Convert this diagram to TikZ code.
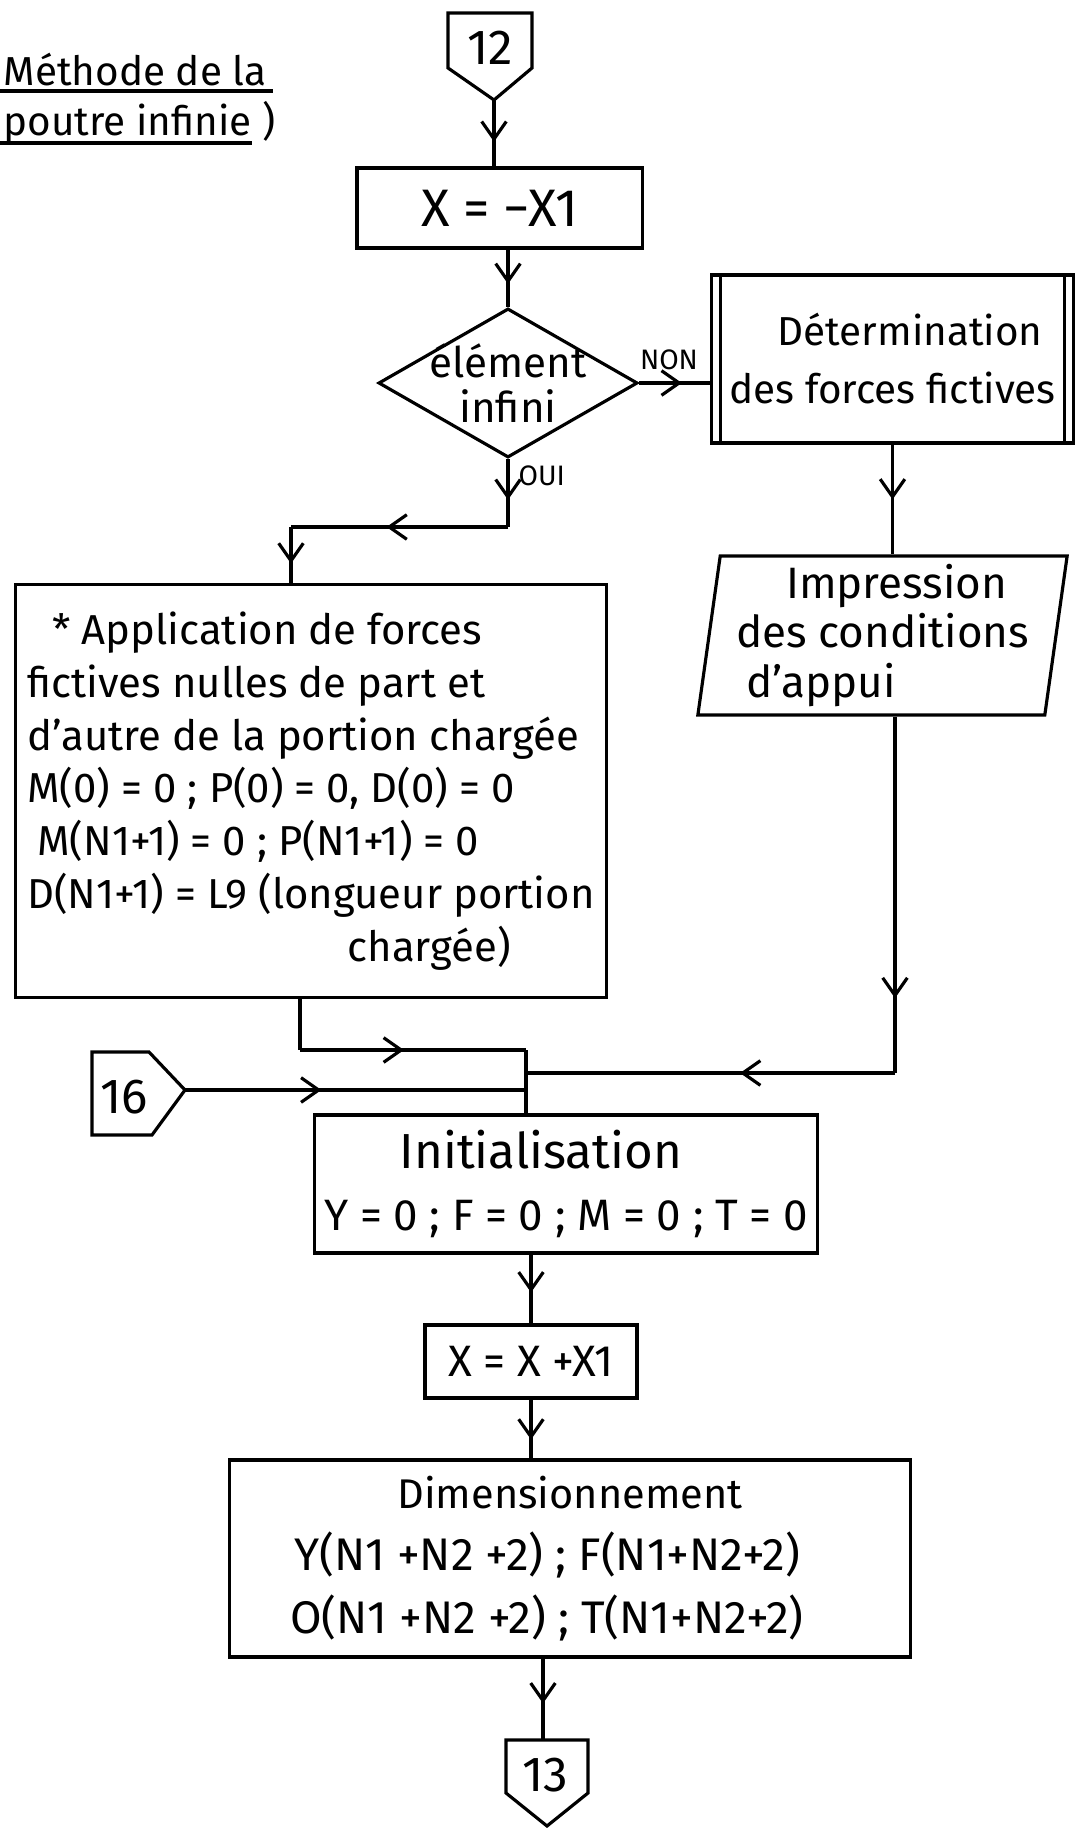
\documentclass[tikz,border=0pt]{standalone}
\usepackage{fontspec}
\setmainfont{Fira Sans}
\usetikzlibrary{shapes.geometric, arrows.meta, decorations.markings}

\begin{document}
\begin{tikzpicture}[
        x=0.01cm, y=-0.01cm, line width=0.9pt,
        box/.style = {rectangle, draw=black, align=center, inner sep=0pt},
        decision/.style = {diamond, draw=black, align=center, inner sep=-0.1cm, aspect=1.74, font=\fontsize{12}{13}\selectfont},
        io/.style = {trapezium, trapezium left angle=82, trapezium right angle=98, trapezium stretches=true, draw=black, inner sep=0pt},
        title/.style = {inner sep=0pt, font=\fontsize{11.5}{13}\selectfont},
        tag/.style = {inner sep=0pt, font=\fontsize{8}{9}\selectfont},
        connector/.style = {inner sep=0pt, font=\fontsize{14}{15}\selectfont},
        flow/.style = {postaction={decorate}, decoration={markings, mark=at position #1 with {\arrow{Straight Barb[length=5pt, width=7pt]}}}},
        flow/.default = 0.6
    ]
    \useasboundingbox (0, 0) rectangle (1077, 1828);

    % ================= TITRE =================
    \node[title, anchor=base west] (titre1) at (2, 86) {Méthode de la};
    \node[title, anchor=base west] (titre2) at (2, 136) {poutre infinie )};
    \draw (0, 91) -- (273, 91);
    \draw (0, 143) -- (252, 143);

    % ================= PARTIE HAUTE =================
    \node[connector] (c12) at (490, 48) {12};
    \draw (448, 13) -- (532, 13) -- (532, 68) -- (494, 100) -- (448, 68) -- cycle;
    \coordinate (c12tip) at (494, 100);

    \node[box, minimum width=2.85cm, minimum height=0.80cm, font=\fontsize{15}{16}\selectfont] (xinit) at (499.5, 208) {X = −X1};

    \node[decision, minimum width=2.59cm, minimum height=1.49cm] (dec) at (508, 383) {élément\\infini};

    \node[box, minimum width=3.61cm, minimum height=1.68cm, font=\fontsize{11.5}{16.5}\selectfont] (det) at (892.5, 359) {\hspace*{0.35cm}Détermination\\des forces fictives};
    \draw ([xshift=0.1cm]det.north west) -- ([xshift=0.1cm]det.south west);
    \draw ([xshift=-0.1cm]det.north east) -- ([xshift=-0.1cm]det.south east);

    \node[io, minimum width=3.71cm, minimum height=1.59cm, align=left, font=\fontsize{12.5}{14.2}\selectfont] (imp) at (882.5, 635.5) {\hspace*{0.5cm}Impression\\des conditions\\\hspace*{0.1cm}d'appui};

    \draw[flow=0.63] (c12tip) -- (c12tip |- xinit.north);
    \draw[flow=0.6] (dec.north |- xinit.south) -- (dec.north);

    % NON
    \draw[flow=0.6] (dec.east) -- (dec.east -| det.west);
    \node[tag] (non) at (669, 360) {NON};
    \draw[flow=0.5] (det.south) -- (det.south |- imp.north);

    % OUI
    \coordinate (oui1) at (508, 527);
    \coordinate (oui2) at (291, 527);
    \node[tag, anchor=west] (oui) at (517, 476) {OUI};

    % ================= APPLICATION =================
    \node[box, minimum width=5.90cm, minimum height=4.12cm, align=left, font=\fontsize{11.9}{15}\selectfont] (appl) at (311, 791) {\hspace*{0.25cm}* Application de forces\\fictives nulles de part et\\d'autre de la portion chargée\\M(0) = 0 ; P(0) = 0, D(0) = 0\\\hspace*{0.1cm}M(N1+1) = 0 ; P(N1+1) = 0\\D(N1+1) = L9 (longueur portion\\\hspace*{3.2cm}chargée)};

    \draw[flow=0.6] (dec.south) -- (oui1);
    \draw[flow=0.56] (oui1) -- (oui2);
    \draw[flow=0.65] (oui2) -- (oui2 |- appl.north);

    % ================= JONCTION =================
    \coordinate (jonction) at (526, 1050);
    \coordinate (imp1) at (895, 1073);
    \coordinate (appl1) at (300, 1050);

    \node[connector] (c16) at (124, 1097) {16};
    \draw (92, 1052) -- (149, 1052) -- (185, 1090) -- (152, 1135) -- (92, 1135) -- cycle;
    \coordinate (c16tip) at (185, 1090);

    \node[box, minimum width=5.02cm, minimum height=1.38cm, font=\fontsize{14}{17.6}\selectfont] (init) at (566, 1184) {Initialisation\hspace*{0.5cm}\\\fontsize{12.5}{17.6}\selectfont Y = 0 ; F = 0 ; M = 0 ; T = 0};

    \draw[flow=0.79] (imp.south -| imp1) -- (imp1);
    \draw[flow=0.42] (imp1) -- (imp1 -| jonction);
    \draw (appl.south -| appl1) -- (appl1);
    \draw[flow=0.46] (appl1) -- (jonction);
    \draw[flow=0.4] (c16tip) -- (c16tip -| jonction);
    \draw (jonction) -- (jonction |- init.north);

    % ================= PARTIE BASSE =================
    \node[box, minimum width=2.12cm, minimum height=0.73cm, font=\fontsize{12.5}{14}\selectfont] (xinc) at (531, 1361.5) {X = X +X1};

    \node[box, minimum width=6.80cm, minimum height=1.97cm, font=\fontsize{13}{17.7}\selectfont] (dim) at (570, 1558.5) {{\fontsize{11.8}{17.7}\selectfont Dimensionnement}\\Y(N1 +N2 +2) ; F(N1+N2+2)\rule{0.46cm}{0pt}\\O(N1 +N2 +2) ; T(N1+N2+2)\rule{0.46cm}{0pt}};

    \node[connector] (c13) at (545, 1775) {13};
    \draw (506, 1740) -- (588, 1740) -- (588, 1793) -- (547, 1826) -- (506, 1793) -- cycle;
    \coordinate (c13top) at (543, 1740);

    \draw[flow=0.55] (xinc.north |- init.south) -- (xinc.north);
    \draw[flow=0.68] (xinc.south) -- (xinc.south |- dim.north);
    \draw[flow=0.55] (dim.south -| c13top) -- (c13top);

\end{tikzpicture}
\end{document}
